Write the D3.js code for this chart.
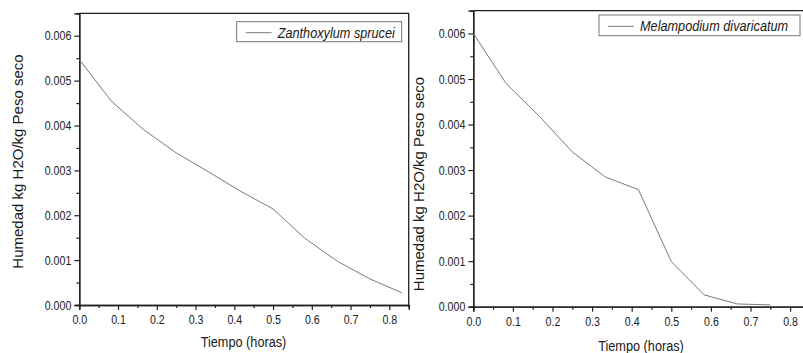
<!DOCTYPE html>
<html>
<head>
<meta charset="utf-8">
<script src="https://cdn.jsdelivr.net/npm/d3@7"></script>
<style>
  body { margin: 0; background: #fff; }
  svg { display: block; font-family: "Liberation Sans", Arial, sans-serif; }
</style>
</head>
<body>
<div id="chart"></div>
<script>
// time in hours (5 minute steps)
var tiempoA = [0, 0.083, 0.167, 0.25, 0.333, 0.417, 0.5, 0.583, 0.667, 0.75, 0.833];
var humedadA = [0.00547, 0.00454, 0.0039, 0.00339, 0.00297, 0.00253, 0.00214, 0.00148, 0.00097, 0.00058, 0.00027];

var tiempoB = [0, 0.083, 0.167, 0.25, 0.333, 0.417, 0.5, 0.583, 0.667, 0.75];
var humedadB = [0.0060, 0.0049, 0.00418, 0.0034, 0.00285, 0.00257, 0.00099, 0.00026, 0.00006, 0.00004];

var xTicks = [0, 0.1, 0.2, 0.3, 0.4, 0.5, 0.6, 0.7, 0.8];
var xMinor = [0.05, 0.15, 0.25, 0.35, 0.45, 0.55, 0.65, 0.75, 0.85];
var yTicks = [0, 0.001, 0.002, 0.003, 0.004, 0.005, 0.006];
var yMinor = [0.0005, 0.0015, 0.0025, 0.0035, 0.0045, 0.0055, 0.0065];

var yTitle = "Humedad kg H2O/kg Peso seco";
var xTitle = "Tiempo (horas)";

var width = 803, height = 353;
var squeeze = 0.82; // the original picture is a bit narrowed

var svg = d3.select("#chart").append("svg")
  .attr("width", width)
  .attr("height", height);

var panels = [
  { t: tiempoA, h: humedadA, name: "Zanthoxylum sprucei",
    left: 79.3, right: 408.7, top: 13.3, bottom: 305,
    yTitleX: 23, yTitleY: 161.5, xTitleX: 243.5, xTitleY: 347,
    leg: { x: 236.7, y: 21.7, w: 165, h: 20 } },
  { t: tiempoB, h: humedadB, name: "Melampodium divaricatum",
    left: 473.3, right: 809.9, top: 10.7, bottom: 306.7,
    yTitleX: 424, yTitleY: 184, xTitleX: 641, xTitleY: 350.5,
    leg: { x: 599, y: 15, w: 201, h: 20.7 } }
];

panels.forEach(function(p) {
  var x = d3.scaleLinear().domain([0, 0.85]).range([p.left, p.right]);
  var y = d3.scaleLinear().domain([0, 0.0065]).range([p.bottom, p.top]);
  var g = svg.append("g");

  // frame (top + right)
  g.append("path")
    .attr("d", "M" + p.left + "," + p.top + "H" + p.right + "V" + p.bottom)
    .attr("fill", "none")
    .attr("stroke", "#222")
    .attr("stroke-width", 1.3);

  // minor ticks
  g.append("g")
    .attr("transform", "translate(0," + p.bottom + ")")
    .call(d3.axisBottom(x).tickValues(xMinor).tickSize(3).tickFormat(""))
    .call(styleAxis);
  g.append("g")
    .attr("transform", "translate(" + p.left + ",0)")
    .call(d3.axisLeft(y).tickValues(yMinor).tickSize(3).tickFormat(""))
    .call(styleAxis);

  // major axes
  var xa = g.append("g")
    .attr("transform", "translate(0," + p.bottom + ")")
    .call(d3.axisBottom(x).tickValues(xTicks).tickSize(5).tickPadding(5).tickFormat(d3.format(".1f")))
    .call(styleAxis);
  xa.selectAll("text")
    .attr("transform", "scale(" + squeeze + ",1)");

  var ya = g.append("g")
    .attr("transform", "translate(" + p.left + ",0)")
    .call(d3.axisLeft(y).tickValues(yTicks).tickSize(5).tickPadding(3).tickFormat(d3.format(".3f")))
    .call(styleAxis);
  ya.selectAll("text")
    .attr("x", -8 / squeeze)
    .attr("transform", "scale(" + squeeze + ",1)");

  // data line
  var line = d3.line()
    .x(function(d, i) { return x(p.t[i]); })
    .y(function(d) { return y(d); });
  g.append("path")
    .datum(p.h)
    .attr("d", line)
    .attr("fill", "none")
    .attr("stroke", "#7a7a7a")
    .attr("stroke-width", 1);

  // titles
  g.append("text")
    .attr("transform", "translate(" + p.yTitleX + "," + p.yTitleY + ") rotate(-90)")
    .attr("text-anchor", "middle")
    .style("font-size", "15px")
    .style("fill", "#1a1a1a")
    .text(yTitle);
  g.append("text")
    .attr("transform", "translate(" + p.xTitleX + "," + p.xTitleY + ") scale(" + squeeze + ",1)")
    .attr("text-anchor", "middle")
    .style("font-size", "15.5px")
    .style("fill", "#1a1a1a")
    .text(xTitle);

  // legend
  var L = p.leg;
  var lg = g.append("g").attr("transform", "translate(" + L.x + "," + L.y + ")");
  lg.append("rect")
    .attr("width", L.w).attr("height", L.h)
    .attr("fill", "#fff")
    .attr("stroke", "#777")
    .attr("stroke-width", 1);
  lg.append("line")
    .attr("x1", 9).attr("x2", 35)
    .attr("y1", L.h / 2 + 1).attr("y2", L.h / 2 + 1)
    .attr("stroke", "#7a7a7a");
  lg.append("text")
    .attr("transform", "translate(41," + (L.h / 2 + 6) + ") scale(" + squeeze + ",1)")
    .style("font-size", "15.5px")
    .style("font-style", "italic")
    .style("fill", "#1a1a1a")
    .text(p.name);
});

function styleAxis(sel) {
  sel.select(".domain").attr("stroke", "#222").attr("stroke-width", 1.3);
  sel.selectAll(".tick line").attr("stroke", "#222").attr("stroke-width", 1.2);
  sel.selectAll(".tick text")
    .style("font-size", "13px")
    .style("fill", "#222")
    .style("font-family", "'Liberation Sans', Arial, sans-serif");
}
</script>
</body>
</html>
